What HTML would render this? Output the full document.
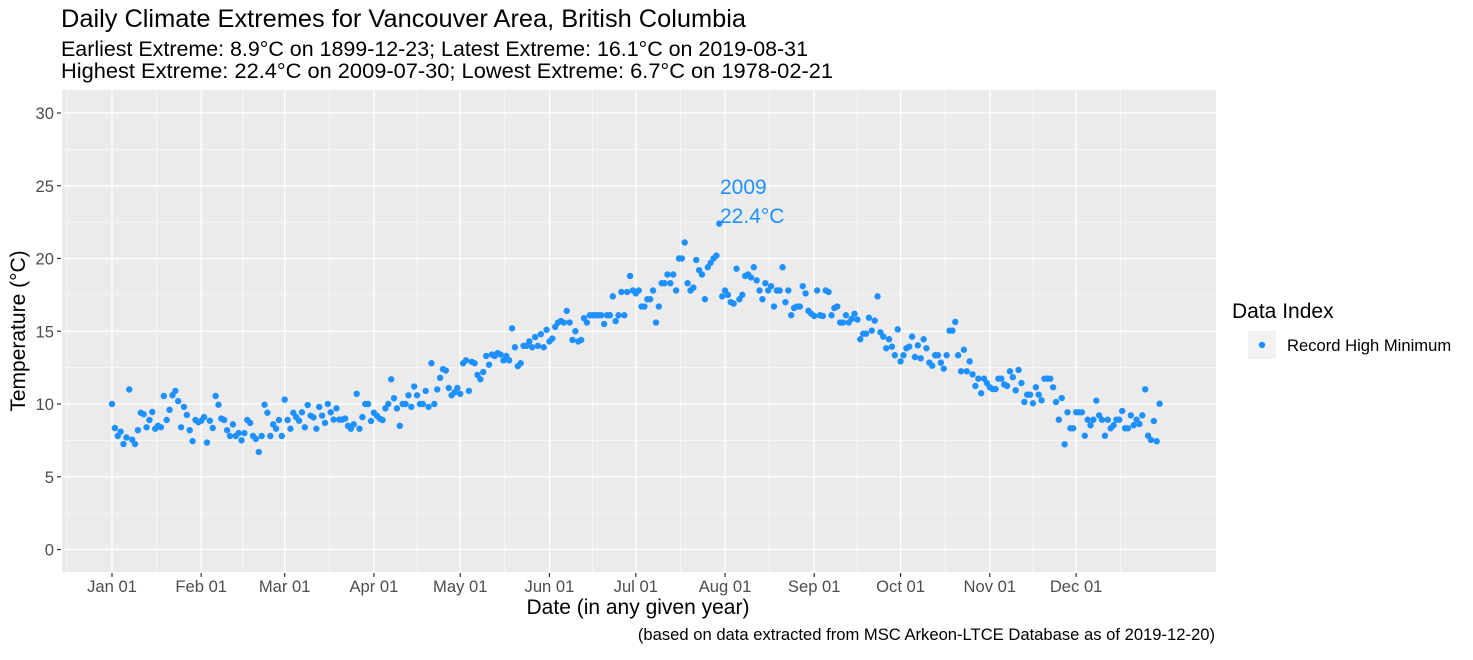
<!DOCTYPE html>
<html><head><meta charset="utf-8"><style>
body{margin:0;background:#fff;width:1473px;height:655px;overflow:hidden;font-family:"Liberation Sans",sans-serif}
svg text{font-family:"Liberation Sans",sans-serif}
</style></head><body>
<svg id="chart" width="1473" height="655" xmlns="http://www.w3.org/2000/svg">
<text x="61" y="27" font-size="25" textLength="685" lengthAdjust="spacingAndGlyphs" fill="#000">Daily Climate Extremes for Vancouver Area, British Columbia</text>
<text x="61" y="56" font-size="21" textLength="747" lengthAdjust="spacingAndGlyphs" fill="#000">Earliest Extreme: 8.9°C on 1899-12-23; Latest Extreme: 16.1°C on 2019-08-31</text>
<text x="61" y="78" font-size="21" textLength="772" lengthAdjust="spacingAndGlyphs" fill="#000">Highest Extreme: 22.4°C on 2009-07-30; Lowest Extreme: 6.7°C on 1978-02-21</text>
<rect x="62" y="90" width="1154" height="482" fill="#ebebeb"/>
<g id="grid"></g><g id="axes"></g><g id="points"></g>
<text x="720" y="194" font-size="21" fill="#1e90ff">2009</text>
<text x="720" y="223" font-size="21" fill="#1e90ff">22.4°C</text>
<text transform="translate(25,331) rotate(-90)" text-anchor="middle" font-size="21" fill="#000">Temperature (°C)</text>
<text x="638" y="614" text-anchor="middle" font-size="21" fill="#000">Date (in any given year)</text>
<text x="1215" y="640" text-anchor="end" font-size="16.6" fill="#000">(based on data extracted from MSC Arkeon-LTCE Database as of 2019-12-20)</text>
<g>
<text x="1232" y="318" font-size="21" fill="#000">Data Index</text>
<rect x="1248" y="331" width="28" height="28" fill="#f2f2f2"/>
<circle cx="1262" cy="345" r="3.2" fill="#1e90ff"/>
<text x="1287" y="351" font-size="16.6" fill="#000">Record High Minimum</text>
</g>
</svg>
<script>
const monthLabels=["Jan 01","Feb 01","Mar 01","Apr 01","May 01","Jun 01","Jul 01","Aug 01","Sep 01","Oct 01","Nov 01","Dec 01"];
const monthDays=[0,31,60,91,121,152,182,213,244,274,305,335];
const yTicks=[0,5,10,15,20,25,30];
const temps=[10.0,8.35,7.8,8.1,7.25,7.7,11.0,7.55,7.25,8.2,9.4,9.3,8.4,8.9,9.45,8.3,8.5,8.4,10.55,8.9,9.6,10.6,10.9,10.2,8.4,9.8,9.25,8.2,7.45,8.9,8.75,8.85,9.1,7.35,8.85,8.35,10.55,9.95,9.0,8.9,8.2,7.8,8.6,7.8,8.0,7.5,8.0,8.9,8.7,7.8,7.6,6.7,7.8,9.95,9.4,7.8,8.6,8.3,8.9,7.8,10.3,8.9,8.3,9.4,9.1,8.85,
9.43,8.4,9.93,9.2,9.08,8.3,9.8,9.2,8.7,10.0,9.43,8.93,9.7,8.93,8.93,9.0,8.5,8.3,8.6,10.7,8.3,9.1,10.0,10.0,8.83,9.4,9.2,9.0,8.9,9.7,10.0,11.7,10.4,9.7,8.5,10.0,10.0,10.6,9.8,11.2,10.6,10.0,10.0,10.9,9.8,12.8,10.0,11.0,11.8,12.4,12.3,11.1,10.6,10.8,11.1,10.7,12.8,13.0,10.9,12.9,12.8,12.0,11.7,12.2,13.3,12.7,
13.4,13.3,13.5,13.4,13.0,13.3,13.0,15.2,13.9,12.6,12.8,14.0,14.0,14.3,13.9,14.6,14.0,14.8,13.9,15.1,14.3,14.5,15.3,15.6,15.7,15.6,16.4,15.6,14.4,15.0,14.3,14.4,15.9,15.6,16.1,16.1,16.1,16.1,16.1,15.5,16.1,16.1,17.4,15.7,16.1,17.7,16.1,17.7,18.8,17.8,17.6,17.8,16.7,16.7,17.2,17.2,17.8,15.6,16.7,18.3,18.3,18.9,18.3,18.9,17.8,
20.0,20.0,21.1,18.3,17.8,18.0,19.9,19.2,18.9,17.2,19.4,19.7,20.0,20.2,22.4,17.4,17.8,17.5,17.0,16.9,19.3,17.2,17.5,18.8,18.9,18.7,19.4,18.5,17.8,17.2,18.3,17.8,18.1,16.7,17.8,17.8,19.4,17.0,17.8,16.1,16.6,16.7,16.7,18.1,17.6,16.4,16.2,16.05,17.8,16.1,16.05,17.8,17.7,16.1,16.6,16.7,15.6,15.6,16.1,15.6,15.85,16.2,
15.8,14.45,14.83,14.83,15.93,15.04,15.73,17.4,14.93,14.63,13.83,14.45,13.94,13.35,15.13,12.93,13.35,13.83,13.94,14.63,13.23,14.03,13.14,14.45,13.83,12.84,12.63,13.35,13.35,12.84,12.43,13.35,15.04,15.04,15.64,13.35,12.25,13.73,12.25,12.93,12.04,11.24,11.74,10.74,11.74,11.44,11.15,11.03,11.03,11.74,11.74,11.35,11.24,12.25,11.84,10.94,12.34,11.44,10.14,10.64,10.64,10.05,11.15,10.64,10.25,11.74,11.74,11.74,11.15,10.14,
8.92,10.41,7.23,9.43,8.33,8.33,9.43,9.43,9.43,7.82,8.92,8.54,8.92,10.23,9.22,8.92,7.82,8.92,8.33,8.54,8.92,8.92,9.52,8.33,8.33,9.22,8.54,8.92,8.63,9.22,11.01,7.82,7.53,8.83,7.44,10.02];
const NS="http://www.w3.org/2000/svg";
const xS=d=>112+d*2.878;
const yS=v=>549.5-v*14.55;
const PX0=62,PX1=1216,PY0=90,PY1=572;
function mk(t,a,parent){const e=document.createElementNS(NS,t);for(const k in a)e.setAttribute(k,a[k]);parent.appendChild(e);return e;}
const grid=document.getElementById('grid'),axes=document.getElementById('axes'),pts=document.getElementById('points');
for(let i=0;i<yTicks.length-1;i++){const y=yS((yTicks[i]+yTicks[i+1])/2);
const l=mk('line',{x1:PX0,x2:PX1,y1:y,y2:y,stroke:'#fff','stroke-width':0.6},grid);

}
const mids=[];for(let i=0;i<monthDays.length;i++){const n=i+1<monthDays.length?monthDays[i+1]:366;mids.push((monthDays[i]+n)/2);}
mids.unshift(-15.5);
mids.forEach(m=>{const x=xS(m);if(x<PX0||x>PX1)return;
const l=mk('line',{x1:x,x2:x,y1:PY0,y2:PY1,stroke:'#fff','stroke-width':0.6},grid);

});
yTicks.forEach(v=>{const y=yS(v);
const l=mk('line',{x1:PX0,x2:PX1,y1:y,y2:y,stroke:'#fff','stroke-width':1.3},grid);


const t=mk('line',{x1:57,x2:61,y1:y,y2:y,stroke:'#333','stroke-width':1.2},axes);


const tx=mk('text',{x:54,y:y+6,'text-anchor':'end','font-size':16.6,fill:'#4d4d4d'},axes);tx.textContent=v;

});
monthDays.forEach((d,i)=>{const x=xS(d);
const l=mk('line',{x1:x,x2:x,y1:PY0,y2:PY1,stroke:'#fff','stroke-width':1.3},grid);


const t=mk('line',{x1:x,x2:x,y1:573,y2:577,stroke:'#333','stroke-width':1.2},axes);


const tx=mk('text',{x:x,y:592,'text-anchor':'middle','font-size':16.6,fill:'#4d4d4d'},axes);tx.textContent=monthLabels[i];

});
temps.forEach((v,i)=>{const c=mk('circle',{cx:xS(i),cy:yS(v),r:3.2,fill:'#1e90ff'},pts);

});
</script>
</body></html>
